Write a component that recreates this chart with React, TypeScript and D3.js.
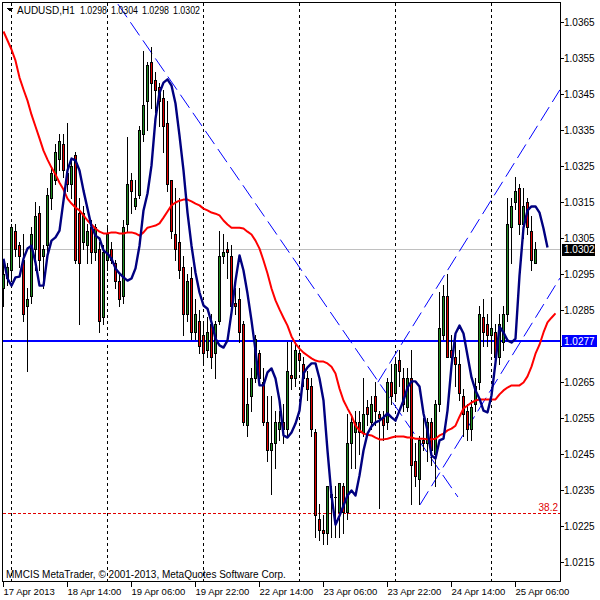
import React from "react";
import * as d3 from "d3";

// AUDUSD H1, 17 Apr 22:00 .. 25 Apr 11:00 (bar index 0 = 17 Apr 22:00)
const symbol = "AUDUSD,H1";
const lastQuote = ["1.0298", "1.0304", "1.0298", "1.0302"];

const open = [
  1.0291, 1.0294, 1.0296, 1.0307, 1.0303, 1.0299, 1.0286, 1.0289, 1.0302, 1.0312,
  1.03, 1.0303, 1.0316, 1.0321, 1.0327, 1.0331, 1.0323, 1.032, 1.0328, 1.0312,
  1.0304, 1.0303, 1.0308, 1.0301, 1.0302, 1.0283, 1.0299, 1.0302, 1.0298, 1.0293,
  1.0289, 1.0309, 1.0321, 1.0314, 1.0317, 1.0334, 1.0343, 1.0354, 1.0349, 1.0347,
  1.0344, 1.0337, 1.0321, 1.0306, 1.0304, 1.0297, 1.0284, 1.0294, 1.0279, 1.0282,
  1.0278, 1.0274, 1.0281, 1.0273, 1.0282, 1.03, 1.0302, 1.03, 1.0287, 1.0288,
  1.0281, 1.0253, 1.0261, 1.0266, 1.0273, 1.0265, 1.0254, 1.0246, 1.0248, 1.0252,
  1.0254, 1.0252, 1.0267, 1.0266, 1.0273, 1.027, 1.0266, 1.0264, 1.0251, 1.0227,
  1.0224, 1.0223, 1.0233, 1.0233, 1.0229, 1.0236, 1.0229, 1.0248, 1.0251, 1.0254,
  1.0251, 1.0258, 1.0254, 1.0261, 1.0256, 1.0255, 1.0254, 1.0265, 1.0262, 1.0271,
  1.0266, 1.0258, 1.0266, 1.0243, 1.0238, 1.0249, 1.0248, 1.0254, 1.0245, 1.0259,
  1.0278, 1.0289, 1.0274, 1.0272, 1.027, 1.0261, 1.0257, 1.0252, 1.0259, 1.0265,
  1.0283, 1.0281, 1.0278, 1.0279, 1.0272, 1.0276, 1.0284, 1.0308, 1.0315, 1.0319,
  1.0309, 1.0315, 1.0307, 1.0298,
];
const high = [
  1.0299, 1.0298, 1.0309, 1.0309, 1.0304, 1.0306, 1.0291, 1.0308, 1.0315, 1.0314,
  1.0303, 1.0319, 1.0325, 1.0331, 1.0334, 1.0334, 1.0337, 1.0327, 1.0329, 1.0316,
  1.0314, 1.0309, 1.031, 1.0309, 1.0304, 1.0303, 1.0308, 1.0304, 1.0299, 1.0295,
  1.031, 1.0333, 1.0323, 1.0321, 1.0336, 1.0357, 1.0354, 1.0358, 1.0351, 1.0348,
  1.0346, 1.0343, 1.0321, 1.0319, 1.0316, 1.03, 1.0295, 1.0297, 1.0288, 1.0285,
  1.0281, 1.0283, 1.0284, 1.0282, 1.0307, 1.0306, 1.0304, 1.0303, 1.0291, 1.0291,
  1.0282, 1.0266, 1.0269, 1.0278, 1.0274, 1.0269, 1.0261, 1.0261, 1.0257, 1.0257,
  1.0259, 1.0276, 1.0276, 1.0276, 1.0274, 1.0272, 1.0268, 1.0266, 1.0252, 1.0231,
  1.0228, 1.0236, 1.0236, 1.0236, 1.0237, 1.0237, 1.0256, 1.0256, 1.0257, 1.0257,
  1.0266, 1.026, 1.0261, 1.0265, 1.0257, 1.0257, 1.0266, 1.027, 1.0272, 1.0274,
  1.0269, 1.0269, 1.0274, 1.0248, 1.025, 1.0255, 1.0255, 1.0255, 1.026, 1.029,
  1.0292, 1.0295, 1.0278, 1.0276, 1.0274, 1.0263, 1.0259, 1.026, 1.0266, 1.0286,
  1.0288, 1.0284, 1.0288, 1.0281, 1.0284, 1.0286, 1.0316, 1.0316, 1.0322, 1.032,
  1.0319, 1.0316, 1.0311, 1.0304,
];
const low = [
  1.0286, 1.0292, 1.0294, 1.03, 1.0297, 1.0282, 1.0268, 1.0287, 1.0296, 1.0296,
  1.0291, 1.03, 1.0313, 1.032, 1.0324, 1.0322, 1.0318, 1.0316, 1.0298, 1.0281,
  1.0302, 1.0298, 1.0298, 1.0299, 1.0279, 1.0281, 1.0296, 1.0298, 1.0291, 1.0286,
  1.0287, 1.0307, 1.0312, 1.0313, 1.0316, 1.0332, 1.0335, 1.0341, 1.034, 1.0336,
  1.0329, 1.0318, 1.0305, 1.0299, 1.0294, 1.0278, 1.0282, 1.0277, 1.0277, 1.0273,
  1.027, 1.0272, 1.0269, 1.0266, 1.0281, 1.0298, 1.0294, 1.0284, 1.0284, 1.0276,
  1.0253, 1.025, 1.0257, 1.0265, 1.0265, 1.0253, 1.0243, 1.0234, 1.0241, 1.0249,
  1.0248, 1.025, 1.0263, 1.0264, 1.0268, 1.0264, 1.026, 1.025, 1.0222, 1.0221,
  1.022, 1.022, 1.0222, 1.0222, 1.0222, 1.0223, 1.0227, 1.0241, 1.0241, 1.0245,
  1.025, 1.0253, 1.0252, 1.0253, 1.023, 1.0249, 1.0252, 1.0259, 1.026, 1.0264,
  1.0257, 1.0257, 1.0231, 1.0236, 1.0231, 1.0246, 1.0243, 1.0242, 1.0236, 1.0257,
  1.0277, 1.0272, 1.0268, 1.0264, 1.026, 1.025, 1.0249, 1.0249, 1.0257, 1.0263,
  1.0275, 1.0275, 1.0274, 1.027, 1.027, 1.0274, 1.0282, 1.0298, 1.0313, 1.0306,
  1.0305, 1.0306, 1.0296, 1.0298,
];
const close = [
  1.0295, 1.0297, 1.0308, 1.0302, 1.03, 1.0284, 1.0288, 1.0306, 1.0311, 1.0299,
  1.0302, 1.0317, 1.0323, 1.0329, 1.0332, 1.0324, 1.032, 1.0325, 1.0299, 1.0298,
  1.0312, 1.0307, 1.0301, 1.0308, 1.0282, 1.0301, 1.0306, 1.0299, 1.0293, 1.0288,
  1.0308, 1.032, 1.0318, 1.0316, 1.0335, 1.0342, 1.0353, 1.0348, 1.0346, 1.0343,
  1.0336, 1.032, 1.0307, 1.0302, 1.0296, 1.0284, 1.0293, 1.0279, 1.0284, 1.0275,
  1.0273, 1.0279, 1.0272, 1.0281, 1.03, 1.0301, 1.0301, 1.0286, 1.0286, 1.0279,
  1.0254, 1.0259, 1.0266, 1.0277, 1.0266, 1.0254, 1.0246, 1.0248, 1.0254, 1.0254,
  1.0252, 1.0268, 1.0266, 1.0274, 1.0271, 1.0266, 1.0263, 1.0252, 1.0228, 1.0224,
  1.0223, 1.0236, 1.0234, 1.0233, 1.0237, 1.0229, 1.0248, 1.0254, 1.0254, 1.0251,
  1.0256, 1.0256, 1.0259, 1.0257, 1.0255, 1.0253, 1.0265, 1.0261, 1.027, 1.0268,
  1.0259, 1.0266, 1.0242, 1.0239, 1.0249, 1.0248, 1.0254, 1.0246, 1.0259, 1.028,
  1.0289, 1.0272, 1.0272, 1.027, 1.0262, 1.0256, 1.0252, 1.0258, 1.0264, 1.0284,
  1.0279, 1.0278, 1.028, 1.0272, 1.0281, 1.0284, 1.0309, 1.0314, 1.0318, 1.0309,
  1.0314, 1.0308, 1.0299, 1.0302,
];

// red moving average (shifted, runs 5 bars past the last candle)
const maSlow = [
  1.03625, 1.036, 1.03575, 1.03544, 1.03497, 1.03464, 1.03433, 1.03394, 1.03361, 1.03328,
  1.03294, 1.03269, 1.03247, 1.03228, 1.03205, 1.03186, 1.03161, 1.03147, 1.03136, 1.03128,
  1.03114, 1.031, 1.03089, 1.03078, 1.03069, 1.03064, 1.03064, 1.03067, 1.03067, 1.03064,
  1.03064, 1.03067, 1.03067, 1.03064, 1.03058, 1.03067, 1.0308, 1.03083, 1.03086, 1.03092,
  1.03108, 1.03125, 1.03142, 1.0315, 1.03155, 1.03158, 1.03158, 1.03153, 1.03147, 1.03142,
  1.03133, 1.03128, 1.03122, 1.03119, 1.03114, 1.031, 1.03089, 1.0308, 1.0308, 1.0308,
  1.03078, 1.03069, 1.03061, 1.03044, 1.03022, 1.02989, 1.02953, 1.02911, 1.02878, 1.02853,
  1.0283, 1.02808, 1.02778, 1.02758, 1.02744, 1.02733, 1.02725, 1.02717, 1.02711, 1.02708,
  1.02708, 1.02703, 1.02694, 1.02675, 1.02633, 1.026, 1.02578, 1.02558, 1.0253, 1.02517,
  1.02508, 1.02505, 1.02503, 1.02497, 1.02492, 1.02492, 1.02494, 1.02497, 1.025, 1.025,
  1.025, 1.02497, 1.02497, 1.02494, 1.02494, 1.02494, 1.02492, 1.02492, 1.02494, 1.02503,
  1.02508, 1.02517, 1.02522, 1.0253, 1.02555, 1.02578, 1.02586, 1.02594, 1.026, 1.02603,
  1.02603, 1.02603, 1.02603, 1.02603, 1.02617, 1.02628, 1.02636, 1.02642, 1.02642, 1.02642,
  1.0265, 1.02667, 1.02694, 1.0273, 1.02755, 1.02789, 1.02817, 1.0283, 1.02842,
];

// navy fast average (shifted, runs 3 bars past the last candle)
const maFast = [
  1.02994, 1.02939, 1.02919, 1.02942, 1.02944, 1.02994, 1.03022, 1.0303, 1.02983, 1.02919,
  1.02919, 1.03003, 1.03044, 1.03053, 1.03072, 1.03155, 1.03239, 1.03272, 1.03267, 1.03239,
  1.03183, 1.03133, 1.03083, 1.03058, 1.0305, 1.03017, 1.03008, 1.02994, 1.02967, 1.02953,
  1.02942, 1.02933, 1.02939, 1.02967, 1.0303, 1.03128, 1.03175, 1.03253, 1.03383, 1.03455,
  1.03483, 1.03492, 1.03475, 1.03425, 1.03336, 1.03239, 1.03122, 1.0303, 1.02955, 1.029,
  1.02864, 1.02855, 1.02817, 1.02772, 1.02753, 1.02747, 1.02767, 1.02844, 1.02933, 1.03003,
  1.02961, 1.02897, 1.02822, 1.02739, 1.02642, 1.02642, 1.02678, 1.02689, 1.02661, 1.026,
  1.02503, 1.02497, 1.02511, 1.02536, 1.02572, 1.02675, 1.02692, 1.02703, 1.02703, 1.02661,
  1.026, 1.02461, 1.02336, 1.02255, 1.0228, 1.02308, 1.02336, 1.0235, 1.02336, 1.02392,
  1.02461, 1.02508, 1.02528, 1.02539, 1.02544, 1.02553, 1.02564, 1.02553, 1.02544, 1.02572,
  1.026, 1.02636, 1.02653, 1.02653, 1.02639, 1.02564, 1.02517, 1.02447, 1.02439, 1.02489,
  1.02494, 1.02572, 1.02697, 1.02786, 1.02808, 1.02786, 1.02725, 1.02664, 1.02628, 1.02605,
  1.02572, 1.02567, 1.02614, 1.02705, 1.02805, 1.02789, 1.02767, 1.02761, 1.02772, 1.02947,
  1.0308, 1.03128, 1.03139, 1.03139, 1.03122, 1.03078, 1.03025,
];

const priceTicks = [
  1.0215, 1.0225, 1.0235, 1.0245, 1.0255, 1.0265, 1.0275, 1.0285,
  1.0295, 1.0305, 1.0315, 1.0325, 1.0335, 1.0345, 1.0355, 1.0365,
];
const timeTickBars = [0, 16, 32, 48, 64, 80, 96, 112, 128];
const timeTickLabels = [
  "17 Apr 2013", "18 Apr 14:00", "19 Apr 06:00", "19 Apr 22:00", "22 Apr 14:00",
  "23 Apr 06:00", "23 Apr 22:00", "24 Apr 14:00", "25 Apr 06:00",
];
const gridBars = [2, 26, 50, 74, 98, 122];

// drawn objects: [bar, price] end points
const trendLines = [
  [[28.6, 1.03701], [113.6, 1.02332]],
  [[93.6, 1.02651], [139.1, 1.03463]],
  [[104.1, 1.0231], [139.1, 1.0294]],
];
const hLine = { price: 1.02765, label: "1.0277" };
const bidLine = { price: 1.0302, label: "1.0302" };
const fibLine = { price: 1.02287, label: "38.2" };

const FONT = "'Liberation Sans', Arial, sans-serif";
const BULL = "#1f8a1f";
const BEAR = "#e00000";

export default function App() {
  const plotL = 2.5, plotT = 2.5, plotR = 560.5, plotB = 581.5;
  const x = d3.scaleLinear().domain([0, 139]).range([3.5, 559.5]);
  const y = d3.scaleLinear().domain([1.0215, 1.0365]).range([562.5, 22.5]);
  const row = (p: number) => Math.round(y(p) - 0.5);
  const ly = (p: number) => row(p) + 0.5;

  const lineOf = (vals: number[]) =>
    d3.line<number>().x((_, i) => x(i)).y((d) => y(d))(vals) || "";

  const hRow = row(hLine.price);
  // the blue price box covers the axis label right under it
  const hidden = (p: number) => Math.abs(ly(p) - hRow) < 10;

  const candles = open.map((o, i) => {
    const c = close[i];
    const cx = x(i);
    const top = row(Math.max(o, c));
    const bot = row(Math.min(o, c));
    const up = Math.round(c * 10000) > Math.round(o * 10000);
    return (
      <g key={i}>
        <line x1={cx} x2={cx} y1={row(high[i])} y2={row(low[i]) + 1} stroke="#000" />
        <rect x={cx - 1.5} y={top} width={3} height={bot - top + 1} fill="#000" />
        {bot - top > 1 && (
          <rect x={cx - 0.5} y={top + 1} width={1} height={bot - top - 1} fill={up ? BULL : BEAR} />
        )}
      </g>
    );
  });

  return (
    <svg
      width={600}
      height={600}
      style={{ position: "absolute", left: 0, top: 0, background: "#fff" }}
      shapeRendering="crispEdges"
    >
      <defs>
        <clipPath id="plot">
          <rect x={plotL} y={plotT} width={plotR - plotL} height={plotB - plotT} />
        </clipPath>
      </defs>

      <g clipPath="url(#plot)">
        {gridBars.map((b) => (
          <line key={b} x1={x(b)} x2={x(b)} y1={plotT} y2={plotB} stroke="#000" strokeDasharray="3 3" />
        ))}
        <line x1={plotL} x2={plotR} y1={ly(bidLine.price)} y2={ly(bidLine.price)} stroke="#c0c0c0" />
        <line x1={plotL} x2={plotR} y1={ly(fibLine.price)} y2={ly(fibLine.price)} stroke="#e00000" strokeDasharray="3 2" />
        <line x1={plotL} x2={plotR} y1={hRow} y2={hRow} stroke="#0000ff" strokeWidth={2} />
        {trendLines.map((t, k) => (
          <line
            key={k}
            x1={x(t[0][0])}
            y1={y(t[0][1])}
            x2={x(t[1][0])}
            y2={y(t[1][1])}
            stroke="#0000ff"
            strokeDasharray="16 6"
            shapeRendering="auto"
          />
        ))}
        {candles}
        <path d={lineOf(maSlow)} fill="none" stroke="#ff0000" strokeWidth={2} shapeRendering="auto" strokeLinejoin="round" />
        <path d={lineOf(maFast)} fill="none" stroke="#000080" strokeWidth={2.4} shapeRendering="auto" strokeLinejoin="round" />
      </g>

      <rect x={plotL} y={plotT} width={plotR - plotL} height={plotB - plotT} fill="none" stroke="#000" />

      {/* price axis */}
      {priceTicks.map((p) => (
        <g key={p}>
          <line x1={plotR} x2={plotR + 3} y1={ly(p)} y2={ly(p)} stroke="#000" />
          {!hidden(p) && (
            <text x={564} y={ly(p) + 3.5} fontSize={10} fontFamily={FONT} fill="#000">
              {p.toFixed(4)}
            </text>
          )}
        </g>
      ))}
      <rect x={562} y={ly(bidLine.price) - 6} width={33} height={12} fill="#000" />
      <text x={564} y={ly(bidLine.price) + 3.5} fontSize={10} fontFamily={FONT} fill="#fff">
        {bidLine.label}
      </text>
      <rect x={562} y={hRow - 6} width={35} height={12} fill="#0000ff" />
      <text x={564} y={hRow + 3.5} fontSize={10} fontFamily={FONT} fill="#fff">
        {hLine.label}
      </text>
      <text x={558} y={ly(fibLine.price) - 3} textAnchor="end" fontSize={10} fontFamily={FONT} fill="#e00000">
        {fibLine.label}
      </text>

      {/* time axis */}
      {timeTickBars.map((b, k) => (
        <g key={b}>
          <line x1={x(b) - 0.5} x2={x(b) - 0.5} y1={plotB} y2={plotB + 5} stroke="#000" />
          <text x={x(b)} y={595} fontSize={9.5} fontFamily={FONT} fill="#000">
            {timeTickLabels[k]}
          </text>
        </g>
      ))}

      {/* header & footer */}
      <path d="M7,8 L13,8 L10,12 Z" fill="#000" />
      <text x={17} y={14} fontSize={10} fontFamily={FONT} fill="#000">
        {symbol}
      </text>
      {lastQuote.map((q, k) => (
        <text
          key={k}
          x={80 + k * 31}
          y={14}
          fontSize={10}
          fontFamily={FONT}
          fill="#000"
          textLength={27}
          lengthAdjust="spacingAndGlyphs"
        >
          {q}
        </text>
      ))}
      <text x={6} y={578} fontSize={10} fontFamily={FONT} fill="#000">
        MMCIS MetaTrader, © 2001-2013, MetaQuotes Software Corp.
      </text>
    </svg>
  );
}
